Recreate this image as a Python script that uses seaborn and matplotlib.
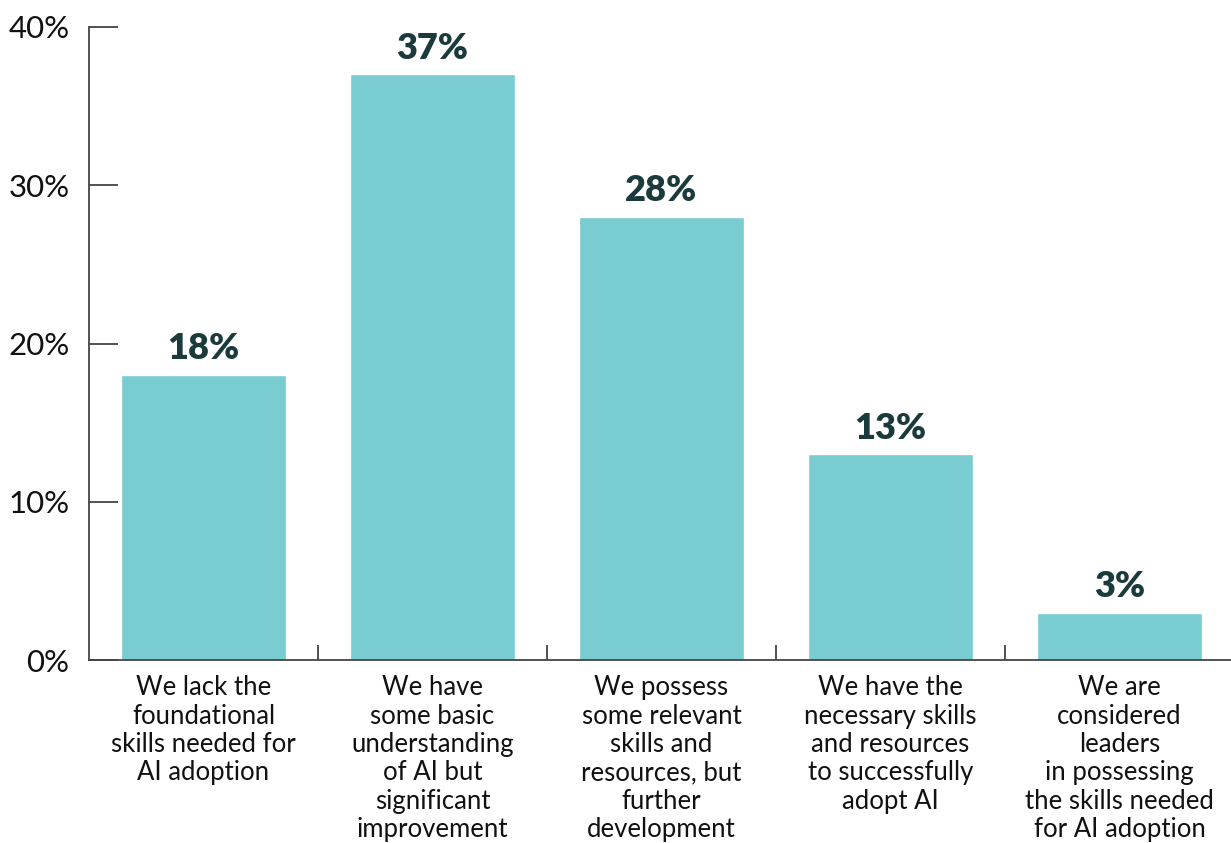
import matplotlib
matplotlib.use("Agg")
import matplotlib.pyplot as plt
import seaborn as sns
import pandas as pd

categories = [
    "We lack the\nfoundational\nskills needed for\nAI adoption",
    "We have\nsome basic\nunderstanding\nof AI but\nsignificant\nimprovement",
    "We possess\nsome relevant\nskills and\nresources, but\nfurther\ndevelopment",
    "We have the\nnecessary skills\nand resources\nto successfully\nadopt AI",
    "We are\nconsidered\nleaders\nin possessing\nthe skills needed\nfor AI adoption",
]
values = [18, 37, 28, 13, 3]
value_labels = ["18%", "37%", "28%", "13%", "3%"]
y_ticks = [0, 10, 20, 30, 40]
y_tick_labels = ["0%", "10%", "20%", "30%", "40%"]

sns.set_theme(style="white")
plt.rcParams['font.family'] = ['Lato', 'DejaVu Sans']

df = pd.DataFrame({"cat": categories, "val": values})

fig = plt.figure(figsize=(12.31, 8.43), dpi=100)
ax = fig.add_axes([89/1231, 183/843, (1234-89)/1231, 633/843])

sns.barplot(data=df, x="cat", y="val", color="#79CCCF", saturation=1,
            width=0.72, ax=ax)

ax.set_xlim(-0.5, 4.5)
ax.set_ylim(0, 40)
ax.set_xlabel("")
ax.set_ylabel("")

for i, (v, lab) in enumerate(zip(values, value_labels)):
    ax.annotate(lab, (i, v), xytext=(0, 7), textcoords="offset points",
                ha="center", va="bottom", fontsize=26, fontweight="heavy",
                color="#1B3A3C")

ax.set_yticks(y_ticks)
ax.set_yticklabels(y_tick_labels, fontsize=22.5, color="#111111")
ax.tick_params(axis="y", direction="in", length=21, width=1.2, pad=14,
               left=True, color="#333333")

ax.set_xticks(range(len(categories)))
ax.set_xticklabels(categories, fontsize=18.5, color="#111111", linespacing=1.17,
                   va="top")
ax.tick_params(axis="x", which="major", length=0, pad=11)
ax.set_xticks([0.5, 1.5, 2.5, 3.5], minor=True)
ax.tick_params(axis="x", which="minor", direction="in", length=11, width=1.2,
               bottom=True, color="#333333")

for s in ["top", "right"]:
    ax.spines[s].set_visible(False)
for s in ["left", "bottom"]:
    ax.spines[s].set_color("#444444")
    ax.spines[s].set_linewidth(1.3)

fig.savefig("out.png", dpi=100)
